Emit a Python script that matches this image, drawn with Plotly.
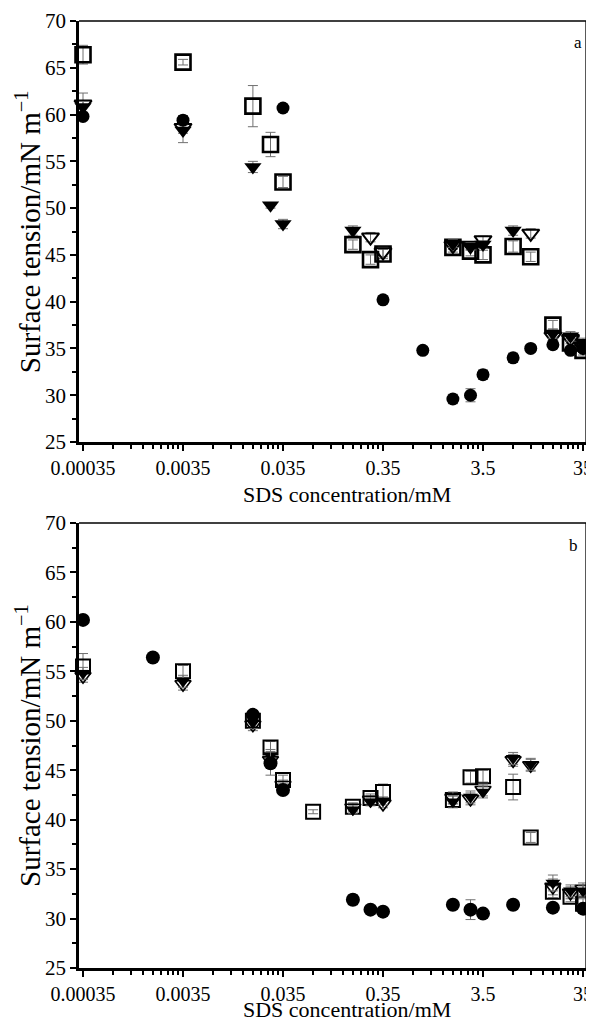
import plotly.graph_objects as go

# ---------------- data ----------------
tick_vals = [0.00035, 0.0035, 0.035, 0.35, 3.5, 35]
tick_text = ["0.00035", "0.0035", "0.035", "0.35", "3.5", "35"]

# Panel a
a_circ_x = [0.00035, 0.0035, 0.035, 0.35, 0.875, 1.75, 2.625, 3.5, 7, 10.5, 17.5, 26.25, 35]
a_circ_y = [59.8, 59.4, 60.7, 40.2, 34.8, 29.6, 30.0, 32.2, 34.0, 35.0, 35.4, 34.8, 35.0]
a_circ_e = [0.3, 0.5, 0.4, 0.4, 0.4, 0.5, 0.7, 0.5, 0.5, 0.4, 0.4, 0.4, 0.4]

a_ftri_x = [0.00035, 0.0035, 0.0175, 0.02625, 0.035, 0.175, 1.75, 2.625, 3.5, 7, 17.5, 26.25, 35]
a_ftri_y = [60.8, 58.3, 54.4, 50.3, 48.3, 47.6, 46.2, 45.9, 46.1, 47.6, 36.6, 36.3, 35.6]
a_ftri_e = [0.6, 1.3, 0.6, 0.3, 0.5, 0.5, 0.4, 0.4, 0.4, 0.5, 0.5, 0.5, 0.5]

a_otri_x = [0.00035, 0.0035, 0.2625, 0.35, 1.75, 2.625, 3.5, 10.5, 17.5, 26.25, 35]
a_otri_y = [61.1, 58.6, 46.9, 45.3, 46.0, 46.0, 46.6, 47.3, 36.3, 36.0, 35.2]
a_otri_e = [1.2, 0.6, 0.5, 0.5, 0.4, 0.4, 0.4, 0.5, 0.5, 0.5, 0.5]

a_sq_x = [0.00035, 0.0035, 0.0175, 0.02625, 0.035, 0.175, 0.2625, 0.35, 1.75, 2.625, 3.5, 7, 10.5, 17.5, 26.25, 35]
a_sq_y = [66.4, 65.6, 60.9, 56.8, 52.8, 46.1, 44.5, 45.1, 45.8, 45.4, 45.0, 45.9, 44.8, 37.5, 35.6, 34.8]
a_sq_e = [1.0, 0.3, 2.2, 1.3, 0.6, 0.5, 0.5, 0.5, 0.5, 0.5, 0.5, 0.6, 0.5, 0.5, 0.5, 0.5]

# Panel b
b_circ_x = [0.00035, 0.00175, 0.0175, 0.02625, 0.035, 0.175, 0.2625, 0.35, 1.75, 2.625, 3.5, 7, 17.5, 35]
b_circ_y = [60.2, 56.4, 50.6, 45.7, 43.0, 31.9, 30.9, 30.7, 31.4, 30.9, 30.5, 31.4, 31.1, 31.0]
b_circ_e = [0.3, 0.3, 0.4, 1.2, 0.3, 0.5, 0.3, 0.2, 0.3, 1.0, 0.3, 0.3, 0.3, 0.3]

b_ftri_x = [0.00035, 0.0035, 0.0175, 0.02625, 0.035, 0.175, 0.2625, 0.35, 1.75, 2.625, 3.5, 7, 10.5, 17.5, 26.25, 35]
b_ftri_y = [54.8, 54.0, 49.8, 46.5, 43.2, 41.0, 41.8, 41.9, 41.8, 42.3, 42.8, 46.2, 45.6, 33.6, 32.8, 32.8]
b_ftri_e = [0.6, 0.6, 0.6, 0.6, 0.5, 0.4, 0.4, 0.4, 0.6, 0.6, 0.6, 0.6, 0.6, 0.8, 0.6, 0.6]

b_otri_x = [0.00035, 0.0035, 0.0175, 0.02625, 0.035, 0.175, 0.2625, 0.35, 1.75, 2.625, 3.5, 7, 10.5, 17.5, 26.25, 35]
b_otri_y = [54.5, 53.7, 49.6, 46.0, 43.5, 41.2, 42.0, 41.6, 42.2, 42.1, 43.0, 46.0, 45.5, 33.2, 32.6, 33.0]
b_otri_e = [0.6, 0.6, 0.6, 0.6, 0.5, 0.4, 0.4, 0.4, 0.6, 0.6, 0.6, 0.6, 0.6, 0.8, 0.6, 0.6]

b_sq_x = [0.00035, 0.0035, 0.0175, 0.02625, 0.035, 0.07, 0.175, 0.2625, 0.35, 1.75, 2.625, 3.5, 7, 10.5, 17.5, 26.25, 35]
b_sq_y = [55.5, 55.0, 50.0, 47.3, 44.0, 40.8, 41.3, 42.2, 42.8, 42.0, 44.3, 44.4, 43.3, 38.2, 32.7, 32.2, 31.5]
b_sq_e = [1.3, 0.6, 0.6, 0.6, 0.5, 0.2, 0.4, 0.4, 0.8, 0.4, 0.6, 0.6, 1.3, 0.5, 0.6, 0.5, 0.5]

minor_mult = [2, 3, 4, 5, 6, 7, 8, 9]

x_title = "SDS concentration/mM"
y_title = "Surface tension/mN m<sup>−1</sup>"

# ---------------- figure ----------------
FONT = "Liberation Serif, Times New Roman, serif"
ERR = dict(type="data", color="#707070", thickness=1, width=5)

fig = go.Figure()

def add(xs, ys, es, symbol, size, lw, xa, ya):
    fig.add_trace(go.Scatter(
        x=xs, y=ys, mode="markers", xaxis=xa, yaxis=ya, cliponaxis=False,
        error_y=dict(array=es, **ERR),
        marker=dict(symbol=symbol, size=size, color="black",
                    line=dict(color="black", width=lw)),
        showlegend=False))

for xa, ya, data in [
    ("x", "y", [(a_sq_x, a_sq_y, a_sq_e, "square-open", 15, 2.6),
                (a_otri_x, a_otri_y, a_otri_e, "triangle-down-open", 15, 2),
                (a_ftri_x, a_ftri_y, a_ftri_e, "triangle-down", 15, 0),
                (a_circ_x, a_circ_y, a_circ_e, "circle", 13, 0)]),
    ("x2", "y2", [(b_sq_x, b_sq_y, b_sq_e, "square-open", 14, 2),
                  (b_otri_x, b_otri_y, b_otri_e, "triangle-down-open", 14, 1.6),
                  (b_ftri_x, b_ftri_y, b_ftri_e, "triangle-down", 13, 0),
                  (b_circ_x, b_circ_y, b_circ_e, "circle", 14, 0)])]:
    for xs, ys, es, sym, sz, lw in data:
        add(xs, ys, es, sym, sz, lw, xa, ya)

minor_vals = [v * m for v in tick_vals[:-1] for m in minor_mult]

xcommon = dict(type="log", range=[-3.496, 1.574], tickmode="array",
               tickvals=tick_vals, ticktext=tick_text, ticks="outside",
               ticklen=6, tickwidth=2, tickcolor="black",
               showline=True, linewidth=2.5, linecolor="black",
               showgrid=False, zeroline=False, automargin=False,
               ticklabeloverflow="allow",
               tickfont=dict(family=FONT, size=20, color="black"),
               minor=dict(tickmode="array", tickvals=minor_vals, ticks="outside",
                          ticklen=4, tickwidth=1.5, tickcolor="black", showgrid=False))
ycommon = dict(range=[25, 70], tickmode="linear", tick0=25, dtick=5,
               ticks="outside", ticklen=6, tickwidth=2, tickcolor="black",
               showline=True, linewidth=2.5, linecolor="black",
               showgrid=False, zeroline=False, automargin=False,
               ticklabeloverflow="allow",
               tickfont=dict(family=FONT, size=21, color="black"),
               minor=dict(dtick=2.5, tick0=25, ticks="outside", ticklen=4,
                          tickwidth=1.5, tickcolor="black", showgrid=False))

# the page body adds an 8px offset, so the figure is 8px smaller and shifted
fig.update_layout(
    width=586, height=1013,
    margin=dict(l=71, r=8, t=13, b=53, autoexpand=False),
    paper_bgcolor="white", plot_bgcolor="white",
    xaxis=dict(anchor="y", **xcommon),
    yaxis=dict(anchor="x", domain=[0.5554, 1.0], **ycommon),
    xaxis2=dict(anchor="y2", **xcommon),
    yaxis2=dict(anchor="x2", domain=[0.0, 0.4699], **ycommon),
)

# thin top/right frame lines
for xr, yr in [("x domain", "y domain"), ("x2 domain", "y2 domain")]:
    fig.add_shape(type="line", xref=xr, yref=yr, x0=0, x1=1, y0=1, y1=1,
                  line=dict(color="black", width=1.5), layer="above")
    fig.add_shape(type="line", xref=xr, yref=yr, x0=1, x1=1, y0=0, y1=1,
                  line=dict(color="black", width=1.3), layer="above")

# axis titles
for ty in [0.4995, -0.0443]:
    fig.add_annotation(text=x_title, xref="paper", yref="paper", x=0.5286, y=ty,
                       xanchor="center", yanchor="middle", showarrow=False,
                       font=dict(family=FONT, size=22, color="black"))
for ty in [0.778, 0.2355]:
    fig.add_annotation(text=y_title, xref="paper", yref="paper", x=-0.1006, y=ty,
                       xanchor="center", yanchor="middle", textangle=-90, showarrow=False,
                       font=dict(family=FONT, size=29, color="black"))

fig.add_annotation(text="a", xref="x domain", yref="y domain", x=0.985, y=0.95,
                   xanchor="center", yanchor="middle",
                   showarrow=False, font=dict(family=FONT, size=17, color="black"))
fig.add_annotation(text="b", xref="x2 domain", yref="y2 domain", x=0.975, y=0.95,
                   xanchor="center", yanchor="middle",
                   showarrow=False, font=dict(family=FONT, size=17, color="black"))

fig.write_html("out.html")
